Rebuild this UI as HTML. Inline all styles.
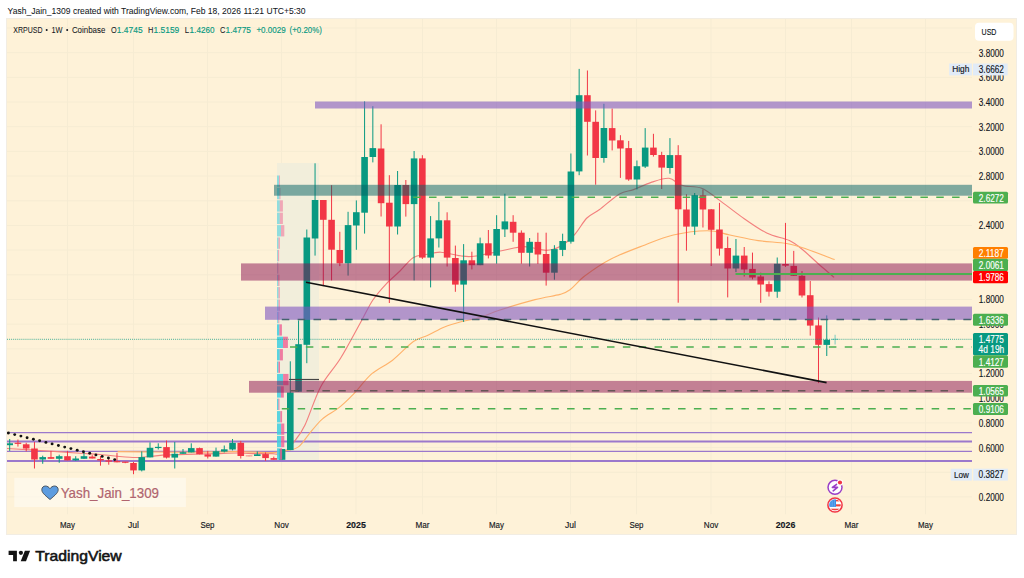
<!DOCTYPE html>
<html><head><meta charset="utf-8"><style>
html,body{margin:0;padding:0;background:#fff;width:1024px;height:578px;overflow:hidden}
svg{position:absolute;left:0;top:0}
text{font-family:"Liberation Sans",sans-serif}
</style></head><body>
<svg width="1024" height="578" viewBox="0 0 1024 578"><defs><clipPath id="plot"><rect x="7" y="19" width="965" height="495.5"/></clipPath></defs>
<rect x="6.5" y="18.5" width="1010" height="516" fill="#fef2d8" stroke="#f2ede3" stroke-width="1"/><g clip-path="url(#plot)"><path d="M67.5 19V514.5 M133.5 19V514.5 M207.5 19V514.5 M281.5 19V514.5 M356 19V514.5 M422.5 19V514.5 M496.5 19V514.5 M570.5 19V514.5 M636.5 19V514.5 M711 19V514.5 M785.5 19V514.5 M851.5 19V514.5 M925.5 19V514.5 M7 496.9H972 M7 472.3H972 M7 447.6H972 M7 422.9H972 M7 398.2H972 M7 373.5H972 M7 348.9H972 M7 324.2H972 M7 299.5H972 M7 274.8H972 M7 250.1H972 M7 225.5H972 M7 200.8H972 M7 176.1H972 M7 151.4H972 M7 126.7H972 M7 102.1H972 M7 77.4H972 M7 52.7H972 M7 28.0H972" stroke="#f6ecd3" stroke-width="1" fill="none"/>
<rect x="277" y="163" width="42" height="297.5" fill="#f2eedb"/>
<path d="M7 432.6H972 M7 451.4H972" stroke="#9b78cc" stroke-width="1.4"/>
<path d="M7 441.5H972 M7 461H972" stroke="#9b78cc" stroke-width="2"/>
<path fill="none" stroke="#f3807e" stroke-width="1.15" d="M7.0 448.5C12.5 448.8 27.8 449.7 40.0 450.5C52.2 451.3 70.0 452.6 80.0 453.3C90.0 454.0 91.2 453.8 100.0 454.5C108.8 455.2 124.8 457.2 133.0 457.5C141.2 457.8 143.2 456.9 149.0 456.5C154.8 456.1 159.8 455.3 168.0 454.9C176.2 454.5 189.8 454.2 198.0 454.0C206.2 453.8 210.5 453.8 217.0 453.6C223.5 453.4 230.5 453.0 237.0 453.0C243.5 453.0 250.2 453.5 256.0 453.6C261.8 453.7 268.3 453.5 272.0 453.6C275.7 453.7 275.7 454.5 278.0 454.0C280.3 453.5 283.3 452.5 286.0 450.5C288.7 448.5 290.8 446.2 294.0 442.0C297.2 437.8 300.6 434.2 305.0 425.0C309.4 415.8 314.7 398.1 320.6 386.9C326.6 375.7 333.9 369.0 340.7 358.0C347.5 347.0 356.1 330.4 361.5 320.7C366.9 311.0 368.8 306.1 372.9 300.0C377.0 293.9 381.8 288.6 386.3 283.8C390.8 279.0 395.5 275.4 400.0 271.0C404.5 266.6 408.8 260.4 413.1 257.7C417.4 254.9 421.4 255.4 426.0 254.5C430.6 253.6 435.1 252.0 440.8 252.2C446.5 252.4 454.7 255.1 460.2 255.8C465.7 256.5 467.1 257.1 474.0 256.3C480.9 255.5 493.4 252.4 501.7 250.8C510.0 249.2 516.5 246.7 523.9 246.6C531.3 246.5 540.0 250.3 546.0 250.3C552.0 250.3 555.3 249.2 560.0 246.6C564.7 244.0 569.7 239.8 574.2 235.0C578.7 230.2 582.7 222.2 586.9 218.0C591.1 213.8 594.2 213.5 599.6 209.5C605.0 205.5 613.8 197.2 619.5 193.9C625.2 190.6 628.4 191.5 633.6 189.6C638.8 187.7 644.7 184.5 650.6 182.6C656.5 180.7 663.8 177.8 669.0 178.3C674.2 178.8 676.4 183.8 681.8 185.4C687.2 187.1 695.5 185.8 701.6 188.2C707.7 190.6 712.0 194.9 718.6 199.6C725.2 204.3 733.3 211.0 741.3 216.6C749.3 222.2 758.7 229.0 766.7 233.0C774.7 237.0 783.2 237.7 789.4 240.6C795.5 243.5 798.9 246.7 803.6 250.5C808.3 254.3 812.6 258.8 817.7 263.3C822.8 267.8 831.4 275.0 834.1 277.4"/>
<path fill="none" stroke="#ffb26a" stroke-width="1.1" d="M117.6 451.6C124.4 451.7 145.2 451.9 158.6 452.0C171.9 452.1 184.7 452.3 197.7 452.2C210.7 452.1 224.3 451.5 236.7 451.6C249.1 451.7 263.7 452.7 271.9 452.6C280.1 452.5 281.6 451.8 286.0 450.8C290.4 449.9 294.5 449.8 298.4 446.9C302.3 444.0 305.5 438.2 309.4 433.6C313.3 429.0 317.1 423.6 322.0 419.3C326.9 415.0 333.5 412.0 338.7 407.9C343.9 403.8 347.7 400.1 353.2 394.4C358.7 388.7 365.3 379.4 371.9 373.7C378.5 368.0 385.7 365.6 392.6 360.2C399.5 354.8 407.5 345.6 413.4 341.5C419.3 337.4 422.7 337.7 427.9 335.3C433.1 332.9 439.0 329.2 444.5 327.0C450.0 324.8 455.1 323.4 461.0 321.8C466.9 320.2 473.5 319.6 480.0 317.6C486.5 315.6 490.8 313.0 500.0 310.0C509.2 307.0 525.0 302.2 535.0 299.6C545.0 297.0 554.2 296.0 560.0 294.4C565.8 292.8 565.8 292.9 570.0 289.8C574.2 286.7 578.2 280.9 585.0 275.8C591.8 270.7 601.0 264.1 611.0 259.0C621.0 253.8 634.6 248.9 645.0 244.9C655.4 240.9 662.9 237.4 673.3 235.0C683.7 232.6 697.9 230.7 707.3 230.7C716.7 230.7 721.4 233.3 729.9 235.0C738.4 236.7 748.8 239.2 758.2 240.6C767.7 242.0 778.6 242.1 786.6 243.5C794.6 244.9 798.4 246.4 806.4 249.1C814.4 251.8 830.0 257.9 834.7 259.6"/>
<g><path d="M9.70 439.0V450.9" stroke="#089981" stroke-width="1"/>
<rect x="6.40" y="443.3" width="6.6" height="1.9" fill="#089981"/></g>
<g><path d="M17.95 439.5V446.6" stroke="#f23645" stroke-width="1"/>
<rect x="14.65" y="442.7" width="6.6" height="1.2" fill="#f23645"/></g>
<g><path d="M26.21 442.8V451.4" stroke="#f23645" stroke-width="1"/>
<rect x="22.91" y="444.3" width="6.6" height="4.2" fill="#f23645"/></g>
<g><path d="M34.46 441.9V468.5" stroke="#f23645" stroke-width="1"/>
<rect x="31.16" y="448.5" width="6.6" height="11.0" fill="#f23645"/></g>
<g><path d="M42.71 455.7V463.8" stroke="#089981" stroke-width="1"/>
<rect x="39.41" y="457.1" width="6.6" height="2.4" fill="#089981"/></g>
<g><path d="M50.97 450.9V458.8" stroke="#f23645" stroke-width="1"/>
<rect x="47.67" y="457.1" width="6.6" height="1.7" fill="#f23645"/></g>
<g><path d="M59.22 454.7V462.8" stroke="#089981" stroke-width="1"/>
<rect x="55.92" y="456.2" width="6.6" height="2.6" fill="#089981"/></g>
<g><path d="M67.47 450.9V460.4" stroke="#f23645" stroke-width="1"/>
<rect x="64.17" y="456.2" width="6.6" height="4.2" fill="#f23645"/></g>
<g><path d="M75.72 456.2V460.9" stroke="#089981" stroke-width="1"/>
<rect x="72.42" y="458.5" width="6.6" height="1.9" fill="#089981"/></g>
<g><path d="M83.98 451.9V458.8" stroke="#089981" stroke-width="1"/>
<rect x="80.68" y="456.2" width="6.6" height="2.6" fill="#089981"/></g>
<g><path d="M92.23 455.2V458.5" stroke="#f23645" stroke-width="1"/>
<rect x="88.93" y="456.6" width="6.6" height="1.9" fill="#f23645"/></g>
<g><path d="M100.48 456.2V465.7" stroke="#f23645" stroke-width="1"/>
<rect x="97.18" y="459.0" width="6.6" height="1.4" fill="#f23645"/></g>
<g><path d="M108.74 457.6V464.7" stroke="#f23645" stroke-width="1"/>
<rect x="105.44" y="460.4" width="6.6" height="1.3" fill="#f23645"/></g>
<g><path d="M116.99 452.8V462.3" stroke="#f23645" stroke-width="1"/>
<rect x="113.69" y="461.1" width="6.6" height="1.2" fill="#f23645"/></g>
<g><path d="M125.24 461.9V463.2" stroke="#f23645" stroke-width="1"/>
<rect x="121.94" y="461.59999999999997" width="6.6" height="1.2" fill="#f23645"/></g>
<g><path d="M133.50 461.9V474.2" stroke="#f23645" stroke-width="1"/>
<rect x="130.19" y="463.0" width="6.6" height="7.4" fill="#f23645"/></g>
<g><path d="M141.75 451.4V471.4" stroke="#089981" stroke-width="1"/>
<rect x="138.45" y="457.1" width="6.6" height="13.3" fill="#089981"/></g>
<g><path d="M150.00 442.4V457.4" stroke="#089981" stroke-width="1"/>
<rect x="146.70" y="447.8" width="6.6" height="9.6" fill="#089981"/></g>
<g><path d="M158.25 443.3V449.5" stroke="#089981" stroke-width="1"/>
<rect x="154.95" y="446.85" width="6.6" height="1.2" fill="#089981"/></g>
<g><path d="M166.51 440.5V458.5" stroke="#f23645" stroke-width="1"/>
<rect x="163.21" y="447.1" width="6.6" height="10.5" fill="#f23645"/></g>
<g><path d="M174.76 441.9V468.5" stroke="#089981" stroke-width="1"/>
<rect x="171.46" y="453.8" width="6.6" height="3.8" fill="#089981"/></g>
<g><path d="M183.01 449.0V453.8" stroke="#089981" stroke-width="1"/>
<rect x="179.71" y="452.2" width="6.6" height="1.6" fill="#089981"/></g>
<g><path d="M191.27 443.3V452.4" stroke="#089981" stroke-width="1"/>
<rect x="187.97" y="448.1" width="6.6" height="4.3" fill="#089981"/></g>
<g><path d="M199.52 447.6V454.3" stroke="#f23645" stroke-width="1"/>
<rect x="196.22" y="448.1" width="6.6" height="6.2" fill="#f23645"/></g>
<g><path d="M207.77 450.9V458.5" stroke="#f23645" stroke-width="1"/>
<rect x="204.47" y="454.4" width="6.6" height="2.2" fill="#f23645"/></g>
<g><path d="M216.02 447.6V456.6" stroke="#089981" stroke-width="1"/>
<rect x="212.72" y="451.2" width="6.6" height="5.4" fill="#089981"/></g>
<g><path d="M224.28 445.5V452.4" stroke="#089981" stroke-width="1"/>
<rect x="220.98" y="449.3" width="6.6" height="2.3" fill="#089981"/></g>
<g><path d="M232.53 439.0V450.4" stroke="#089981" stroke-width="1"/>
<rect x="229.23" y="442.8" width="6.6" height="6.7" fill="#089981"/></g>
<g><path d="M240.78 440.9V458.5" stroke="#f23645" stroke-width="1"/>
<rect x="237.48" y="442.8" width="6.6" height="13.2" fill="#f23645"/></g>
<g opacity="0.45"><path d="M249.04 455.0V456.5" stroke="#f23645" stroke-width="1"/>
<rect x="245.74" y="455.25" width="6.6" height="1.2" fill="#f23645"/></g>
<g><path d="M257.29 451.4V456.0" stroke="#089981" stroke-width="1"/>
<rect x="253.99" y="454.3" width="6.6" height="1.7" fill="#089981"/></g>
<g><path d="M265.54 452.4V460.9" stroke="#f23645" stroke-width="1"/>
<rect x="262.24" y="454.1" width="6.6" height="4.0" fill="#f23645"/></g>
<g><path d="M273.80 456.6V459.8" stroke="#f23645" stroke-width="1"/>
<rect x="270.50" y="458.1" width="6.6" height="1.7" fill="#f23645"/></g>
<g><path d="M282.05 449.0V459.8" stroke="#089981" stroke-width="1"/>
<rect x="278.75" y="449.0" width="6.6" height="10.8" fill="#089981"/></g>
<g><path d="M290.30 361.3V450.1" stroke="#089981" stroke-width="1"/>
<rect x="287.00" y="392.5" width="6.6" height="57.6" fill="#089981"/></g>
<g><path d="M298.56 320.4V391.7" stroke="#089981" stroke-width="1"/>
<rect x="295.25" y="344.2" width="6.6" height="47.5" fill="#089981"/></g>
<g><path d="M306.81 229.5V363.2" stroke="#089981" stroke-width="1"/>
<rect x="303.51" y="237.5" width="6.6" height="107.3" fill="#089981"/></g>
<g><path d="M315.06 163.3V255.6" stroke="#089981" stroke-width="1"/>
<rect x="311.76" y="200.0" width="6.6" height="38.5" fill="#089981"/></g>
<g><path d="M323.31 200.0V286.1" stroke="#f23645" stroke-width="1"/>
<rect x="320.01" y="200.0" width="6.6" height="19.8" fill="#f23645"/></g>
<g><path d="M331.57 185.2V280.4" stroke="#f23645" stroke-width="1"/>
<rect x="328.27" y="219.8" width="6.6" height="29.9" fill="#f23645"/></g>
<g><path d="M339.82 231.8V266.1" stroke="#f23645" stroke-width="1"/>
<rect x="336.52" y="250.0" width="6.6" height="13.3" fill="#f23645"/></g>
<g><path d="M348.07 211.8V275.6" stroke="#089981" stroke-width="1"/>
<rect x="344.77" y="225.1" width="6.6" height="38.2" fill="#089981"/></g>
<g><path d="M356.33 200.4V249.8" stroke="#089981" stroke-width="1"/>
<rect x="353.03" y="212.2" width="6.6" height="13.3" fill="#089981"/></g>
<g><path d="M364.58 101.4V233.6" stroke="#089981" stroke-width="1"/>
<rect x="361.28" y="157.0" width="6.6" height="55.7" fill="#089981"/></g>
<g><path d="M372.83 106.2V162.4" stroke="#089981" stroke-width="1"/>
<rect x="369.53" y="148.1" width="6.6" height="8.9" fill="#089981"/></g>
<g><path d="M381.08 124.3V216.5" stroke="#f23645" stroke-width="1"/>
<rect x="377.78" y="148.5" width="6.6" height="54.7" fill="#f23645"/></g>
<g><path d="M389.34 175.2V303.0" stroke="#f23645" stroke-width="1"/>
<rect x="386.04" y="202.7" width="6.6" height="23.8" fill="#f23645"/></g>
<g><path d="M397.59 171.0V234.5" stroke="#089981" stroke-width="1"/>
<rect x="394.29" y="185.0" width="6.6" height="41.5" fill="#089981"/></g>
<g><path d="M405.84 180.0V216.6" stroke="#f23645" stroke-width="1"/>
<rect x="402.54" y="185.0" width="6.6" height="19.1" fill="#f23645"/></g>
<g><path d="M414.10 151.0V280.4" stroke="#089981" stroke-width="1"/>
<rect x="410.80" y="158.4" width="6.6" height="45.7" fill="#089981"/></g>
<g><path d="M422.35 155.2V259.0" stroke="#f23645" stroke-width="1"/>
<rect x="419.05" y="158.4" width="6.6" height="99.2" fill="#f23645"/></g>
<g><path d="M430.60 216.1V287.4" stroke="#089981" stroke-width="1"/>
<rect x="427.30" y="238.4" width="6.6" height="19.2" fill="#089981"/></g>
<g><path d="M438.86 201.9V247.5" stroke="#089981" stroke-width="1"/>
<rect x="435.56" y="220.3" width="6.6" height="18.1" fill="#089981"/></g>
<g><path d="M447.11 212.3V266.5" stroke="#f23645" stroke-width="1"/>
<rect x="443.81" y="220.3" width="6.6" height="37.3" fill="#f23645"/></g>
<g><path d="M455.36 245.6V291.8" stroke="#f23645" stroke-width="1"/>
<rect x="452.06" y="258.0" width="6.6" height="26.6" fill="#f23645"/></g>
<g><path d="M463.62 244.1V321.9" stroke="#089981" stroke-width="1"/>
<rect x="460.31" y="260.3" width="6.6" height="24.3" fill="#089981"/></g>
<g><path d="M471.87 251.7V269.4" stroke="#f23645" stroke-width="1"/>
<rect x="468.57" y="260.3" width="6.6" height="4.9" fill="#f23645"/></g>
<g><path d="M480.12 237.6V265.2" stroke="#089981" stroke-width="1"/>
<rect x="476.82" y="243.3" width="6.6" height="21.9" fill="#089981"/></g>
<g><path d="M488.37 230.0V258.4" stroke="#f23645" stroke-width="1"/>
<rect x="485.07" y="243.3" width="6.6" height="12.2" fill="#f23645"/></g>
<g><path d="M496.63 215.2V263.7" stroke="#089981" stroke-width="1"/>
<rect x="493.33" y="229.0" width="6.6" height="26.7" fill="#089981"/></g>
<g><path d="M504.88 193.7V237.0" stroke="#089981" stroke-width="1"/>
<rect x="501.58" y="221.4" width="6.6" height="8.0" fill="#089981"/></g>
<g><path d="M513.13 215.2V241.8" stroke="#f23645" stroke-width="1"/>
<rect x="509.83" y="221.8" width="6.6" height="10.9" fill="#f23645"/></g>
<g><path d="M521.39 230.4V263.7" stroke="#f23645" stroke-width="1"/>
<rect x="518.09" y="232.7" width="6.6" height="20.1" fill="#f23645"/></g>
<g><path d="M529.64 238.0V266.5" stroke="#089981" stroke-width="1"/>
<rect x="526.34" y="241.8" width="6.6" height="11.0" fill="#089981"/></g>
<g><path d="M537.89 232.7V263.9" stroke="#f23645" stroke-width="1"/>
<rect x="534.59" y="241.9" width="6.6" height="12.6" fill="#f23645"/></g>
<g><path d="M546.15 232.7V285.6" stroke="#f23645" stroke-width="1"/>
<rect x="542.85" y="254.0" width="6.6" height="18.7" fill="#f23645"/></g>
<g><path d="M554.40 245.2V279.7" stroke="#089981" stroke-width="1"/>
<rect x="551.10" y="249.1" width="6.6" height="23.6" fill="#089981"/></g>
<g><path d="M562.65 233.7V256.1" stroke="#089981" stroke-width="1"/>
<rect x="559.35" y="241.0" width="6.6" height="8.9" fill="#089981"/></g>
<g><path d="M570.90 153.5V243.6" stroke="#089981" stroke-width="1"/>
<rect x="567.60" y="171.5" width="6.6" height="70.2" fill="#089981"/></g>
<g><path d="M579.16 68.9V175.2" stroke="#089981" stroke-width="1"/>
<rect x="575.86" y="95.2" width="6.6" height="76.2" fill="#089981"/></g>
<g><path d="M587.41 70.5V155.5" stroke="#f23645" stroke-width="1"/>
<rect x="584.11" y="95.2" width="6.6" height="26.6" fill="#f23645"/></g>
<g><path d="M595.66 110.4V184.7" stroke="#f23645" stroke-width="1"/>
<rect x="592.36" y="121.8" width="6.6" height="36.2" fill="#f23645"/></g>
<g><path d="M603.92 103.8V162.7" stroke="#089981" stroke-width="1"/>
<rect x="600.62" y="128.0" width="6.6" height="30.0" fill="#089981"/></g>
<g><path d="M612.17 108.6V150.4" stroke="#f23645" stroke-width="1"/>
<rect x="608.87" y="128.1" width="6.6" height="12.4" fill="#f23645"/></g>
<g><path d="M620.42 135.2V177.9" stroke="#f23645" stroke-width="1"/>
<rect x="617.12" y="140.3" width="6.6" height="8.2" fill="#f23645"/></g>
<g><path d="M628.68 140.9V180.8" stroke="#f23645" stroke-width="1"/>
<rect x="625.38" y="148.1" width="6.6" height="31.4" fill="#f23645"/></g>
<g><path d="M636.93 160.5V189.4" stroke="#089981" stroke-width="1"/>
<rect x="633.63" y="166.2" width="6.6" height="13.3" fill="#089981"/></g>
<g><path d="M645.18 128.1V168.0" stroke="#089981" stroke-width="1"/>
<rect x="641.88" y="147.6" width="6.6" height="19.0" fill="#089981"/></g>
<g><path d="M653.43 133.8V156.6" stroke="#f23645" stroke-width="1"/>
<rect x="650.13" y="147.6" width="6.6" height="7.4" fill="#f23645"/></g>
<g><path d="M661.69 151.8V189.0" stroke="#f23645" stroke-width="1"/>
<rect x="658.39" y="155.0" width="6.6" height="12.6" fill="#f23645"/></g>
<g><path d="M669.94 138.1V173.7" stroke="#089981" stroke-width="1"/>
<rect x="666.64" y="155.1" width="6.6" height="12.9" fill="#089981"/></g>
<g><path d="M678.19 145.2V302.7" stroke="#f23645" stroke-width="1"/>
<rect x="674.89" y="155.1" width="6.6" height="54.2" fill="#f23645"/></g>
<g><path d="M686.45 194.3V250.7" stroke="#f23645" stroke-width="1"/>
<rect x="683.15" y="209.5" width="6.6" height="17.1" fill="#f23645"/></g>
<g><path d="M694.70 193.0V234.8" stroke="#089981" stroke-width="1"/>
<rect x="691.40" y="195.2" width="6.6" height="31.4" fill="#089981"/></g>
<g><path d="M702.95 189.5V227.5" stroke="#f23645" stroke-width="1"/>
<rect x="699.65" y="195.2" width="6.6" height="14.3" fill="#f23645"/></g>
<g><path d="M711.21 209.0V266.0" stroke="#f23645" stroke-width="1"/>
<rect x="707.91" y="209.3" width="6.6" height="20.5" fill="#f23645"/></g>
<g><path d="M719.46 202.9V255.6" stroke="#f23645" stroke-width="1"/>
<rect x="716.16" y="229.5" width="6.6" height="19.1" fill="#f23645"/></g>
<g><path d="M727.71 236.6V297.4" stroke="#f23645" stroke-width="1"/>
<rect x="724.41" y="248.0" width="6.6" height="20.5" fill="#f23645"/></g>
<g><path d="M735.96 239.0V272.1" stroke="#089981" stroke-width="1"/>
<rect x="732.66" y="255.6" width="6.6" height="12.9" fill="#089981"/></g>
<g><path d="M744.22 247.0V276.5" stroke="#f23645" stroke-width="1"/>
<rect x="740.92" y="255.6" width="6.6" height="13.9" fill="#f23645"/></g>
<g><path d="M752.47 252.6V279.4" stroke="#f23645" stroke-width="1"/>
<rect x="749.17" y="268.9" width="6.6" height="8.6" fill="#f23645"/></g>
<g><path d="M760.72 272.7V302.8" stroke="#f23645" stroke-width="1"/>
<rect x="757.42" y="276.5" width="6.6" height="8.0" fill="#f23645"/></g>
<g><path d="M768.98 281.3V296.5" stroke="#f23645" stroke-width="1"/>
<rect x="765.68" y="284.1" width="6.6" height="7.6" fill="#f23645"/></g>
<g><path d="M777.23 257.5V297.8" stroke="#089981" stroke-width="1"/>
<rect x="773.93" y="263.8" width="6.6" height="27.9" fill="#089981"/></g>
<g><path d="M785.48 222.9V267.0" stroke="#f23645" stroke-width="1"/>
<rect x="782.18" y="264.0" width="6.6" height="1.7" fill="#f23645"/></g>
<g><path d="M793.74 250.9V276.0" stroke="#f23645" stroke-width="1"/>
<rect x="790.44" y="265.9" width="6.6" height="9.9" fill="#f23645"/></g>
<g><path d="M801.99 271.1V297.5" stroke="#f23645" stroke-width="1"/>
<rect x="798.69" y="275.8" width="6.6" height="19.7" fill="#f23645"/></g>
<g><path d="M810.24 281.0V335.6" stroke="#f23645" stroke-width="1"/>
<rect x="806.94" y="295.2" width="6.6" height="30.4" fill="#f23645"/></g>
<g><path d="M818.49 317.5V383.1" stroke="#f23645" stroke-width="1"/>
<rect x="815.19" y="325.4" width="6.6" height="19.4" fill="#f23645"/></g>
<g><path d="M826.75 315.4V356.0" stroke="#089981" stroke-width="1"/>
<rect x="823.45" y="339.8" width="6.6" height="5.1" fill="#089981"/></g>
<path d="M835.1 334.8V344.5 M832 339.3H838.3" stroke="#8fd0c2" stroke-width="1.2"/>
<rect x="277" y="175.5" width="2.1" height="11.3" fill="#3fcfdf" fill-opacity="0.55"/>
<rect x="279.1" y="175.5" width="0.9" height="11.3" fill="#ee5f92" fill-opacity="0.5"/>
<rect x="277" y="187.9" width="2.5" height="11.3" fill="#3fcfdf" fill-opacity="0.55"/>
<rect x="279.5" y="187.9" width="1.0" height="11.3" fill="#ee5f92" fill-opacity="0.5"/>
<rect x="277" y="200.3" width="2.8" height="11.3" fill="#3fcfdf" fill-opacity="0.55"/>
<rect x="279.8" y="200.3" width="3.1" height="11.3" fill="#ee5f92" fill-opacity="0.5"/>
<rect x="277" y="212.7" width="2.8" height="11.3" fill="#3fcfdf" fill-opacity="0.55"/>
<rect x="279.8" y="212.7" width="3.1" height="11.3" fill="#ee5f92" fill-opacity="0.5"/>
<rect x="277" y="225.1" width="4.0" height="11.3" fill="#3fcfdf" fill-opacity="0.55"/>
<rect x="281.0" y="225.1" width="3.3" height="11.3" fill="#ee5f92" fill-opacity="0.5"/>
<rect x="277" y="237.5" width="1.5" height="11.3" fill="#3fcfdf" fill-opacity="0.55"/>
<rect x="278.5" y="237.5" width="1.4" height="11.3" fill="#ee5f92" fill-opacity="0.5"/>
<rect x="277" y="249.9" width="0.9" height="11.3" fill="#3fcfdf" fill-opacity="0.55"/>
<rect x="277.9" y="249.9" width="1.2" height="11.3" fill="#ee5f92" fill-opacity="0.5"/>
<rect x="277" y="262.3" width="0.6" height="11.3" fill="#3fcfdf" fill-opacity="0.55"/>
<rect x="277.6" y="262.3" width="0.7" height="11.3" fill="#ee5f92" fill-opacity="0.5"/>
<rect x="277" y="274.7" width="1.2" height="11.3" fill="#3fcfdf" fill-opacity="0.55"/>
<rect x="278.2" y="274.7" width="1.3" height="11.3" fill="#ee5f92" fill-opacity="0.5"/>
<rect x="277" y="287.1" width="1.5" height="11.3" fill="#3fcfdf" fill-opacity="0.55"/>
<rect x="278.5" y="287.1" width="1.4" height="11.3" fill="#ee5f92" fill-opacity="0.5"/>
<rect x="277" y="299.5" width="1.5" height="11.3" fill="#3fcfdf" fill-opacity="0.55"/>
<rect x="278.5" y="299.5" width="1.5" height="11.3" fill="#ee5f92" fill-opacity="0.5"/>
<rect x="277" y="311.9" width="1.3" height="11.3" fill="#3fcfdf" fill-opacity="0.55"/>
<rect x="278.3" y="311.9" width="1.0" height="11.3" fill="#ee5f92" fill-opacity="0.5"/>
<rect x="277" y="324.3" width="2.4" height="11.3" fill="#3fcfdf" fill-opacity="0.85"/>
<rect x="279.4" y="324.3" width="2.5" height="11.3" fill="#ee5f92" fill-opacity="0.7999999999999999"/>
<rect x="277" y="336.7" width="6.0" height="11.3" fill="#3fcfdf" fill-opacity="0.85"/>
<rect x="283.0" y="336.7" width="4.9" height="11.3" fill="#ee5f92" fill-opacity="0.7999999999999999"/>
<rect x="277" y="349.1" width="2.8" height="11.3" fill="#3fcfdf" fill-opacity="0.85"/>
<rect x="279.8" y="349.1" width="3.1" height="11.3" fill="#ee5f92" fill-opacity="0.7999999999999999"/>
<rect x="277" y="361.5" width="1.5" height="11.3" fill="#3fcfdf" fill-opacity="0.85"/>
<rect x="278.5" y="361.5" width="1.5" height="11.3" fill="#ee5f92" fill-opacity="0.7999999999999999"/>
<rect x="277" y="373.9" width="6.1" height="11.3" fill="#3fcfdf" fill-opacity="0.85"/>
<rect x="283.1" y="373.9" width="5.4" height="11.3" fill="#ee5f92" fill-opacity="0.7999999999999999"/>
<rect x="277" y="386.3" width="3.9" height="11.3" fill="#3fcfdf" fill-opacity="0.85"/>
<rect x="280.9" y="386.3" width="2.9" height="11.3" fill="#ee5f92" fill-opacity="0.7999999999999999"/>
<rect x="277" y="398.7" width="1.5" height="11.3" fill="#3fcfdf" fill-opacity="0.85"/>
<rect x="278.5" y="398.7" width="0.9" height="11.3" fill="#ee5f92" fill-opacity="0.7999999999999999"/>
<rect x="277" y="411.1" width="3.3" height="11.3" fill="#3fcfdf" fill-opacity="0.85"/>
<rect x="280.3" y="411.1" width="1.8" height="11.3" fill="#ee5f92" fill-opacity="0.7999999999999999"/>
<rect x="277" y="423.5" width="4.1" height="11.3" fill="#3fcfdf" fill-opacity="0.85"/>
<rect x="281.1" y="423.5" width="3.2" height="11.3" fill="#ee5f92" fill-opacity="0.7999999999999999"/>
<rect x="277" y="435.9" width="4.1" height="11.3" fill="#3fcfdf" fill-opacity="0.85"/>
<rect x="281.1" y="435.9" width="3.2" height="11.3" fill="#ee5f92" fill-opacity="0.7999999999999999"/>
<rect x="277" y="448.3" width="2.9" height="11.3" fill="#3fcfdf" fill-opacity="0.85"/>
<rect x="279.9" y="448.3" width="2.2" height="11.3" fill="#ee5f92" fill-opacity="0.7999999999999999"/>
<path d="M289 379.5H319" stroke="#444" stroke-width="1.2"/>
<rect x="315" y="101.5" width="657" height="7" fill="rgb(126,87,194)" fill-opacity="0.6"/>
<rect x="274" y="184.8" width="698" height="10.9" fill="#006064" fill-opacity="0.5"/>
<rect x="241" y="263.4" width="731" height="17.2" fill="#880e4f" fill-opacity="0.5"/>
<rect x="265" y="306.6" width="707" height="13.2" fill="rgb(126,87,194)" fill-opacity="0.6"/>
<rect x="249" y="380.9" width="723" height="11.8" fill="#880e4f" fill-opacity="0.5"/>
<path d="M413.2 197.2H972" stroke="#4caf50" stroke-width="1.5" stroke-dasharray="7.5 8.35"/>
<path d="M290 346.9H972" stroke="#4caf50" stroke-width="1.5" stroke-dasharray="7.5 8.35"/>
<path d="M281.8 408.7H972" stroke="#4caf50" stroke-width="1.5" stroke-dasharray="7.5 8.35"/>
<path d="M281.8 319.5H972" stroke="#44636e" stroke-width="1.5" stroke-dasharray="7.5 8.35"/>
<path d="M290.7 390.8H972" stroke="#665656" stroke-width="1.5" stroke-dasharray="7.5 8.35"/>
<path d="M735.5 274.1H972" stroke="#4caf50" stroke-width="2"/>
<path d="M7 339.4H972" stroke="#089981" stroke-opacity="0.6" stroke-width="1.2" stroke-dasharray="1 1.05"/>
<path d="M306 282.3L826.6 382.6" stroke="#111" stroke-width="1.6"/>
<circle cx="8.4" cy="433.0" r="1.45" fill="#111"/><circle cx="14.7" cy="434.6" r="1.45" fill="#111"/><circle cx="20.9" cy="436.1" r="1.45" fill="#111"/><circle cx="27.1" cy="437.7" r="1.45" fill="#111"/><circle cx="33.4" cy="439.2" r="1.45" fill="#111"/><circle cx="39.6" cy="440.8" r="1.45" fill="#111"/><circle cx="45.9" cy="442.4" r="1.45" fill="#111"/><circle cx="52.1" cy="443.9" r="1.45" fill="#111"/><circle cx="58.4" cy="445.5" r="1.45" fill="#111"/><circle cx="64.7" cy="447.1" r="1.45" fill="#111"/><circle cx="70.9" cy="448.6" r="1.45" fill="#111"/><circle cx="77.2" cy="450.2" r="1.45" fill="#111"/><circle cx="83.4" cy="451.8" r="1.45" fill="#111"/><circle cx="89.7" cy="453.3" r="1.45" fill="#111"/><circle cx="95.9" cy="454.9" r="1.45" fill="#111"/><circle cx="102.2" cy="456.4" r="1.45" fill="#111"/><circle cx="108.4" cy="458.0" r="1.45" fill="#111"/><circle cx="114.7" cy="459.6" r="1.45" fill="#111"/></g>
<text x="978.8" y="56.6" font-size="10.2" fill="#131722" stroke="#131722" stroke-width="0.15" textLength="25.1" lengthAdjust="spacingAndGlyphs">3.8000</text>
<text x="978.8" y="81.3" font-size="10.2" fill="#131722" stroke="#131722" stroke-width="0.15" textLength="25.1" lengthAdjust="spacingAndGlyphs">3.6000</text>
<text x="978.8" y="106.0" font-size="10.2" fill="#131722" stroke="#131722" stroke-width="0.15" textLength="25.1" lengthAdjust="spacingAndGlyphs">3.4000</text>
<text x="978.8" y="130.6" font-size="10.2" fill="#131722" stroke="#131722" stroke-width="0.15" textLength="25.1" lengthAdjust="spacingAndGlyphs">3.2000</text>
<text x="978.8" y="155.3" font-size="10.2" fill="#131722" stroke="#131722" stroke-width="0.15" textLength="25.1" lengthAdjust="spacingAndGlyphs">3.0000</text>
<text x="978.8" y="180.0" font-size="10.2" fill="#131722" stroke="#131722" stroke-width="0.15" textLength="25.1" lengthAdjust="spacingAndGlyphs">2.8000</text>
<text x="978.8" y="229.4" font-size="10.2" fill="#131722" stroke="#131722" stroke-width="0.15" textLength="25.1" lengthAdjust="spacingAndGlyphs">2.4000</text>
<text x="978.8" y="303.4" font-size="10.2" fill="#131722" stroke="#131722" stroke-width="0.15" textLength="25.1" lengthAdjust="spacingAndGlyphs">1.8000</text>
<text x="978.8" y="328.1" font-size="10.2" fill="#131722" stroke="#131722" stroke-width="0.15" textLength="25.1" lengthAdjust="spacingAndGlyphs">1.6000</text>
<text x="978.8" y="377.4" font-size="10.2" fill="#131722" stroke="#131722" stroke-width="0.15" textLength="25.1" lengthAdjust="spacingAndGlyphs">1.2000</text>
<text x="978.8" y="402.1" font-size="10.2" fill="#131722" stroke="#131722" stroke-width="0.15" textLength="25.1" lengthAdjust="spacingAndGlyphs">1.0000</text>
<text x="978.8" y="426.8" font-size="10.2" fill="#131722" stroke="#131722" stroke-width="0.15" textLength="25.1" lengthAdjust="spacingAndGlyphs">0.8000</text>
<text x="978.8" y="451.5" font-size="10.2" fill="#131722" stroke="#131722" stroke-width="0.15" textLength="25.1" lengthAdjust="spacingAndGlyphs">0.6000</text>
<text x="978.8" y="500.8" font-size="10.2" fill="#131722" stroke="#131722" stroke-width="0.15" textLength="25.1" lengthAdjust="spacingAndGlyphs">0.2000</text>
<text x="67.5" y="527.8" font-size="9.3" fill="#131722" stroke="#131722" stroke-width="0.15" textLength="15" lengthAdjust="spacingAndGlyphs" text-anchor="middle">May</text>
<text x="133.5" y="527.8" font-size="9.3" fill="#131722" stroke="#131722" stroke-width="0.15" textLength="11" lengthAdjust="spacingAndGlyphs" text-anchor="middle">Jul</text>
<text x="207.5" y="527.8" font-size="9.3" fill="#131722" stroke="#131722" stroke-width="0.15" textLength="14" lengthAdjust="spacingAndGlyphs" text-anchor="middle">Sep</text>
<text x="281.5" y="527.8" font-size="9.3" fill="#131722" stroke="#131722" stroke-width="0.15" textLength="14.5" lengthAdjust="spacingAndGlyphs" text-anchor="middle">Nov</text>
<text x="356" y="527.8" font-size="9.3" fill="#131722" stroke="#131722" stroke-width="0.15" textLength="19.6" lengthAdjust="spacingAndGlyphs" text-anchor="middle" font-weight="bold">2025</text>
<text x="422.5" y="527.8" font-size="9.3" fill="#131722" stroke="#131722" stroke-width="0.15" textLength="14.1" lengthAdjust="spacingAndGlyphs" text-anchor="middle">Mar</text>
<text x="496.5" y="527.8" font-size="9.3" fill="#131722" stroke="#131722" stroke-width="0.15" textLength="15" lengthAdjust="spacingAndGlyphs" text-anchor="middle">May</text>
<text x="570.5" y="527.8" font-size="9.3" fill="#131722" stroke="#131722" stroke-width="0.15" textLength="11" lengthAdjust="spacingAndGlyphs" text-anchor="middle">Jul</text>
<text x="636.5" y="527.8" font-size="9.3" fill="#131722" stroke="#131722" stroke-width="0.15" textLength="14" lengthAdjust="spacingAndGlyphs" text-anchor="middle">Sep</text>
<text x="711" y="527.8" font-size="9.3" fill="#131722" stroke="#131722" stroke-width="0.15" textLength="14.5" lengthAdjust="spacingAndGlyphs" text-anchor="middle">Nov</text>
<text x="785.5" y="527.8" font-size="9.3" fill="#131722" stroke="#131722" stroke-width="0.15" textLength="19.6" lengthAdjust="spacingAndGlyphs" text-anchor="middle" font-weight="bold">2026</text>
<text x="851.5" y="527.8" font-size="9.3" fill="#131722" stroke="#131722" stroke-width="0.15" textLength="14.1" lengthAdjust="spacingAndGlyphs" text-anchor="middle">Mar</text>
<text x="925.5" y="527.8" font-size="9.3" fill="#131722" stroke="#131722" stroke-width="0.15" textLength="15" lengthAdjust="spacingAndGlyphs" text-anchor="middle">May</text>
<rect x="973" y="191.8" width="35" height="11.7" rx="1.5" fill="#4caf50"/>
<text x="978.8" y="201.7" font-size="10.2" fill="#fff" stroke="#fff" stroke-width="0.15" textLength="25.1" lengthAdjust="spacingAndGlyphs">2.6272</text>
<rect x="973" y="246.9" width="35" height="11.9" rx="1.5" fill="#ff7f00"/>
<text x="978.8" y="257.0" font-size="10.2" fill="#fff" stroke="#fff" stroke-width="0.15" textLength="25.1" lengthAdjust="spacingAndGlyphs">2.1187</text>
<rect x="973" y="258.8" width="35" height="12.3" rx="1.5" fill="#4caf50"/>
<text x="978.8" y="269.3" font-size="10.2" fill="#fff" stroke="#fff" stroke-width="0.15" textLength="25.1" lengthAdjust="spacingAndGlyphs">2.0061</text>
<rect x="973" y="271.1" width="35" height="12.1" rx="1.5" fill="#ff0000"/>
<text x="978.8" y="281.4" font-size="10.2" fill="#fff" stroke="#fff" stroke-width="0.15" textLength="25.1" lengthAdjust="spacingAndGlyphs">1.9786</text>
<rect x="973" y="313.8" width="35" height="12.0" rx="1.5" fill="#4caf50"/>
<text x="978.8" y="324.0" font-size="10.2" fill="#fff" stroke="#fff" stroke-width="0.15" textLength="25.1" lengthAdjust="spacingAndGlyphs">1.6336</text>
<rect x="973" y="333.1" width="35" height="22.1" rx="1.5" fill="#089981"/>
<text x="978.8" y="343.4" font-size="10.2" fill="#fff" stroke="#fff" stroke-width="0.15" textLength="25.1" lengthAdjust="spacingAndGlyphs">1.4775</text>
<text x="978.6" y="353.1" font-size="10.2" fill="#fff" stroke="#fff" stroke-width="0.15" textLength="25.7" lengthAdjust="spacingAndGlyphs">4d 19h</text>
<rect x="973" y="355.2" width="35" height="12.5" rx="1.5" fill="#4caf50"/>
<text x="978.8" y="365.9" font-size="10.2" fill="#fff" stroke="#fff" stroke-width="0.15" textLength="25.1" lengthAdjust="spacingAndGlyphs">1.4127</text>
<rect x="973" y="385.1" width="35" height="11.5" rx="1.5" fill="#4caf50"/>
<text x="978.8" y="394.8" font-size="10.2" fill="#fff" stroke="#fff" stroke-width="0.15" textLength="25.1" lengthAdjust="spacingAndGlyphs">1.0565</text>
<rect x="973" y="403" width="35" height="12.0" rx="1.5" fill="#4caf50"/>
<text x="978.8" y="413.2" font-size="10.2" fill="#fff" stroke="#fff" stroke-width="0.15" textLength="25.1" lengthAdjust="spacingAndGlyphs">0.9106</text>
<rect x="949.2" y="63.5" width="22.7" height="11.9" fill="#e1ebf7"/><rect x="973" y="63.5" width="34.7" height="11.9" fill="#e1ebf7"/>
<text x="952.2" y="71.6" font-size="8.2" fill="#131722" stroke="#131722" stroke-width="0.15" textLength="17.1" lengthAdjust="spacingAndGlyphs">High</text>
<text x="978.8" y="73.4" font-size="10.2" fill="#131722" stroke="#131722" stroke-width="0.15" textLength="25.1" lengthAdjust="spacingAndGlyphs">3.6662</text>
<rect x="950.8" y="468.7" width="21.1" height="11.9" fill="#e1ebf7"/><rect x="973.2" y="468.7" width="34.7" height="11.9" fill="#e1ebf7"/>
<text x="954" y="477.8" font-size="8.4" fill="#131722" stroke="#131722" stroke-width="0.15" textLength="14.8" lengthAdjust="spacingAndGlyphs">Low</text>
<text x="978.5" y="478.3" font-size="10.2" fill="#131722" stroke="#131722" stroke-width="0.15" textLength="25.5" lengthAdjust="spacingAndGlyphs">0.3827</text>
<rect x="975" y="22.8" width="38.5" height="18" rx="4" fill="#fff"/>
<text x="981.6" y="35" font-size="8.8" fill="#131722" stroke="#131722" stroke-width="0.15" textLength="14.8" lengthAdjust="spacingAndGlyphs">USD</text>
<text x="7.6" y="13.7" font-size="9.6" fill="#131722" stroke="#131722" stroke-width="0.05" textLength="298" lengthAdjust="spacingAndGlyphs">Yash_Jain_1309 created with TradingView.com, Feb 18, 2026 11:21 UTC+5:30</text>
<text x="13.3" y="32.8" font-size="9.6" fill="#131722" stroke="#131722" stroke-width="0.05" textLength="29.3" lengthAdjust="spacingAndGlyphs">XRPUSD</text>
<circle cx="46.7" cy="30.1" r="1" fill="#131722"/><circle cx="67.2" cy="30.1" r="1" fill="#131722"/>
<text x="51.4" y="32.8" font-size="9.6" fill="#131722" stroke="#131722" stroke-width="0.05" textLength="11.1" lengthAdjust="spacingAndGlyphs">1W</text>
<text x="71.9" y="32.8" font-size="9.6" fill="#131722" stroke="#131722" stroke-width="0.05" textLength="33.4" lengthAdjust="spacingAndGlyphs">Coinbase</text>
<text x="110.9" y="32.8" font-size="9.6" fill="#131722" stroke="#131722" stroke-width="0.05" textLength="5.7" lengthAdjust="spacingAndGlyphs">O</text>
<text x="116.8" y="32.8" font-size="9.4" fill="#089981" stroke="#089981" stroke-width="0.15" textLength="25.8" lengthAdjust="spacingAndGlyphs">1.4745</text>
<text x="147.9" y="32.8" font-size="9.6" fill="#131722" stroke="#131722" stroke-width="0.05" textLength="5.4" lengthAdjust="spacingAndGlyphs">H</text>
<text x="153.5" y="32.8" font-size="9.4" fill="#089981" stroke="#089981" stroke-width="0.15" textLength="25.8" lengthAdjust="spacingAndGlyphs">1.5159</text>
<text x="184.8" y="32.8" font-size="9.6" fill="#131722" stroke="#131722" stroke-width="0.05" textLength="4.4" lengthAdjust="spacingAndGlyphs">L</text>
<text x="189.6" y="32.8" font-size="9.4" fill="#089981" stroke="#089981" stroke-width="0.15" textLength="24.9" lengthAdjust="spacingAndGlyphs">1.4260</text>
<text x="219.9" y="32.8" font-size="9.6" fill="#131722" stroke="#131722" stroke-width="0.05" textLength="5.4" lengthAdjust="spacingAndGlyphs">C</text>
<text x="225.5" y="32.8" font-size="9.4" fill="#089981" stroke="#089981" stroke-width="0.15" textLength="25.5" lengthAdjust="spacingAndGlyphs">1.4775</text>
<text x="256.4" y="32.8" font-size="9.4" fill="#089981" stroke="#089981" stroke-width="0.15" textLength="29.3" lengthAdjust="spacingAndGlyphs">+0.0029</text>
<text x="289.6" y="32.8" font-size="9.4" fill="#089981" stroke="#089981" stroke-width="0.15" textLength="32.3" lengthAdjust="spacingAndGlyphs">(+0.20%)</text>
<rect x="14.3" y="477.8" width="171.6" height="29.3" fill="#ffffff" fill-opacity="0.45"/>
<path d="M50 499.5 C44 494.5 41.8 492.5 41.8 489.6 C41.8 487.4 43.5 486 45.5 486 C47.3 486 48.9 487.2 50 488.6 C51.1 487.2 52.7 486 54.5 486 C56.5 486 58.2 487.4 58.2 489.6 C58.2 492.5 56 494.5 50 499.5Z" fill="#5d9cdf" stroke="#3f4a55" stroke-width="0.9"/>
<text x="60.7" y="497.8" font-size="14.6" fill="#b0646e" stroke="#b0646e" stroke-width="0.2" textLength="98.3" lengthAdjust="spacingAndGlyphs">Yash_Jain_1309</text>
<circle cx="835" cy="487.3" r="7" fill="#fff" stroke="#9a3fc8" stroke-width="1.5"/>
<path d="M836.6 484.3 L832.4 487.4 H837.5 L833.2 490.8" fill="none" stroke="#9a3fc8" stroke-width="1.6" stroke-linejoin="round" stroke-linecap="round"/>
<circle cx="840" cy="482.5" r="3.1" fill="#fff"/><circle cx="840" cy="482.5" r="2.1" fill="#f23645"/>
<defs><clipPath id="flag"><circle cx="835" cy="505" r="5.8"/></clipPath></defs>
<circle cx="835" cy="505" r="7.1" fill="#fff" stroke="#f23645" stroke-width="1.5"/>
<g clip-path="url(#flag)"><rect x="826" y="499.1" width="10" height="7.8" fill="#3a8ee6"/><path d="M831 499V506.5 M832.7 499V506.5 M834.4 499V506.5" stroke="#7fb6ee" stroke-width="0.6"/><rect x="836" y="499.9" width="7" height="1.5" fill="#f0443c"/><rect x="836" y="504.3" width="7" height="2.1" fill="#f0443c"/><rect x="826" y="508.7" width="18" height="1.7" fill="#f0443c"/></g>
<path d="M8.6 550.7H16.9V561.3H13.1V554.9H8.6Z" fill="#131313"/>
<circle cx="20.9" cy="552.8" r="2.1" fill="#131313"/>
<path d="M24.9 550.7H30.1L26 561.3H20.7Z" fill="#131313"/>
<text x="35.3" y="561.3" font-size="14.6" fill="#131313" stroke="#131313" stroke-width="0.55" textLength="86.4" lengthAdjust="spacingAndGlyphs">TradingView</text>
</svg>
</body></html>
